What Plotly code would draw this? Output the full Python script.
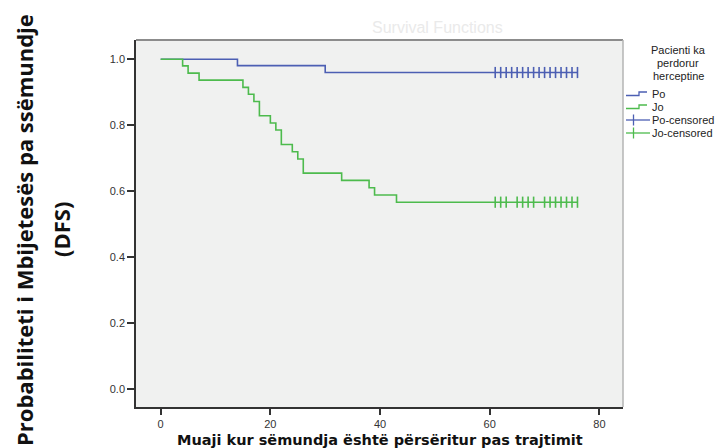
import plotly.graph_objects as go

# ---------------- data ----------------
# Kaplan-Meier step curves: time (months) and survival at/after that time
po_time = [0, 14, 30, 76]
po_surv = [1.0, 0.981, 0.960, 0.960]

jo_time = [0, 4, 5, 7, 15, 16, 17, 18, 20, 21, 22, 24, 25, 26, 33, 38, 39, 43, 76]
jo_surv = [1.0, 0.980, 0.958, 0.937, 0.915, 0.894, 0.872, 0.829, 0.807, 0.786,
           0.742, 0.720, 0.698, 0.655, 0.633, 0.611, 0.589, 0.567, 0.567]

# censored observation times
po_censored = [61, 62, 63, 64, 65, 66, 67, 68, 69, 70, 71, 72, 73, 74, 75, 76]
jo_censored = [61, 62, 63, 65, 66, 67, 68, 70, 71, 72, 73, 74, 75, 76]

x_ticks = [0, 20, 40, 60, 80]
y_ticks = [0.0, 0.2, 0.4, 0.6, 0.8, 1.0]

series_names = ["Po", "Jo", "Po-censored", "Jo-censored"]
legend_title_lines = ["Pacienti ka", "perdorur", "herceptine"]
x_title = "Muaji kur sëmundja është përsëritur pas trajtimit"
y_title_lines = ["Probabiliteti i Mbijetesës pa ssëmundje", "(DFS)"]
chart_title = "Survival Functions"

# ---------------- styles ----------------
BLUE = "#4c5fb3"
GREEN = "#4dbb4d"
W, H = 728, 448
L, R, T, B = 136, 623, 40, 407   # plot area in pixels


def step_value(times, surv, t):
    """survival of a step curve at time t (for placing censor marks on the curve)"""
    v = surv[0]
    for ti, si in zip(times, surv):
        if ti <= t:
            v = si
    return v


def px(xp):
    return (xp - L) / (R - L)


def py(yp):
    return (B - yp) / (B - T)


fig = go.Figure()

fig.add_trace(go.Scatter(x=po_time, y=po_surv, mode="lines", line_shape="hv",
                         line=dict(color=BLUE, width=1.6), name=series_names[0],
                         showlegend=False))
fig.add_trace(go.Scatter(x=jo_time, y=jo_surv, mode="lines", line_shape="hv",
                         line=dict(color=GREEN, width=1.6), name=series_names[1],
                         showlegend=False))
fig.add_trace(go.Scatter(x=po_censored,
                         y=[step_value(po_time, po_surv, t) for t in po_censored],
                         mode="markers", name=series_names[2], showlegend=False,
                         marker=dict(symbol="line-ns", size=8,
                                     line=dict(color=BLUE, width=1.6))))
fig.add_trace(go.Scatter(x=jo_censored,
                         y=[step_value(jo_time, jo_surv, t) for t in jo_censored],
                         mode="markers", name=series_names[3], showlegend=False,
                         marker=dict(symbol="line-ns", size=8,
                                     line=dict(color=GREEN, width=1.6))))

annotations = []
shapes = []

# faint (mostly hidden) chart title
annotations.append(dict(text=chart_title, x=px(437), y=py(28), xref="paper", yref="paper",
                        showarrow=False, xanchor="center", yanchor="middle",
                        font=dict(family="Liberation Sans", size=16, color="#eaeaea")))

# axis titles
annotations.append(dict(text="<b>" + x_title + "</b>", x=px(380), y=py(440),
                        xref="paper", yref="paper",
                        showarrow=False, xanchor="center", yanchor="middle",
                        font=dict(family="DejaVu Sans", size=14.5, color="#111")))
for line, xx in zip(y_title_lines, [24, 61]):
    annotations.append(dict(text="<b>" + line + "</b>",
                            x=px(xx), y=py(230), xref="paper", yref="paper",
                            showarrow=False, xanchor="center", yanchor="middle",
                            textangle=-90, align="center",
                            font=dict(family="Open Sans", size=22, color="#111")))

# manual legend (compact, like the reference)
for line, yy in zip(legend_title_lines, [50, 63, 76]):
    annotations.append(dict(text=line, x=px(678), y=py(yy), xref="paper", yref="paper",
                            showarrow=False, xanchor="center", yanchor="middle",
                            font=dict(family="Liberation Sans", size=11, color="#222")))
item_y = [94, 107, 120, 133]
item_col = [BLUE, GREEN, BLUE, GREEN]
for i, (nm, yy, col) in enumerate(zip(series_names, item_y, item_col)):
    annotations.append(dict(text=nm, x=px(650), y=py(yy), xref="paper", yref="paper",
                            showarrow=False, xanchor="left", yanchor="middle",
                            font=dict(family="Liberation Sans", size=11, color="#222")))
    if i < 2:
        path = (f"M {px(626)},{py(yy + 1.5)} L {px(639)},{py(yy + 1.5)} "
                f"L {px(639)},{py(yy - 2)} L {px(647)},{py(yy - 2)}")
        shapes.append(dict(type="path", path=path, xref="paper", yref="paper",
                           line=dict(color=col, width=1.3)))
    else:
        shapes.append(dict(type="line", x0=px(626), x1=px(650), y0=py(yy), y1=py(yy),
                           xref="paper", yref="paper", line=dict(color=col, width=1.3)))
        shapes.append(dict(type="line", x0=px(633.5), x1=px(633.5), y0=py(yy - 5.5),
                           y1=py(yy + 5.5), xref="paper", yref="paper",
                           line=dict(color=col, width=1.3)))

# frame: top and right borders
shapes.append(dict(type="line", x0=0, x1=1, y0=1, y1=1, xref="paper", yref="paper",
                   line=dict(color="#8c8c8c", width=2)))
shapes.append(dict(type="line", x0=1, x1=1, y0=0, y1=1, xref="paper", yref="paper",
                   line=dict(color="#b4b4b4", width=1.5)))

fig.update_layout(
    width=W, height=H,
    margin=dict(l=L, r=W - R, t=T, b=H - B, pad=0),
    paper_bgcolor="white",
    plot_bgcolor="#f0f1f0",
    showlegend=False,
    annotations=annotations,
    shapes=shapes,
    font=dict(family="Liberation Sans", size=11, color="#333"),
)
fig.update_xaxes(range=[-4.5, 84.3], tickvals=x_ticks, ticktext=[str(v) for v in x_ticks],
                 showgrid=False, zeroline=False, showline=True, linecolor="#333",
                 linewidth=1.5, ticks="outside", ticklen=6, tickwidth=1.5,
                 tickcolor="#333", tickfont=dict(size=11, color="#333"))
fig.update_yaxes(range=[-0.0536, 1.0585], tickvals=y_ticks,
                 ticktext=[f"{v:.1f}" for v in y_ticks],
                 showgrid=False, zeroline=False, showline=True, linecolor="#333",
                 linewidth=1.5, ticks="outside", ticklen=7, tickwidth=1.5,
                 tickcolor="#333", tickfont=dict(size=11, color="#333"))

fig.write_html("out.html")
